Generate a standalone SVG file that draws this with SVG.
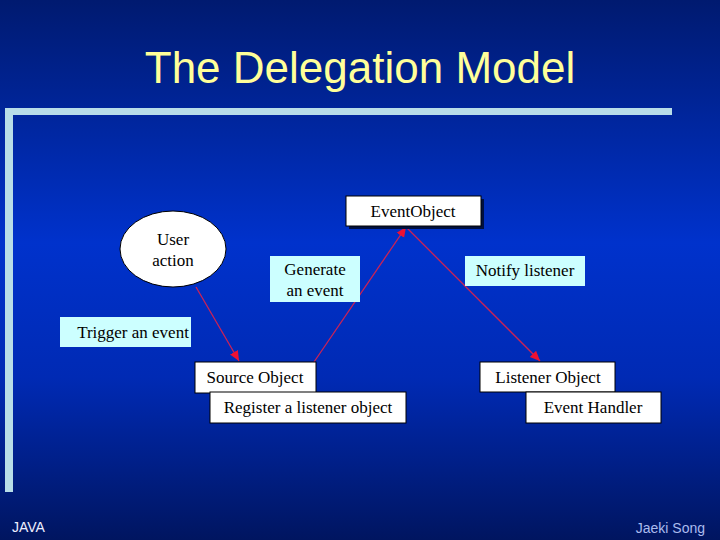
<svg xmlns="http://www.w3.org/2000/svg" width="720" height="540" viewBox="0 0 720 540">
<defs>
<linearGradient id="bg" x1="0" y1="0" x2="0" y2="1">
<stop offset="0" stop-color="#001a70"/>
<stop offset="0.45" stop-color="#0032cc"/>
<stop offset="0.7" stop-color="#002ab4"/>
<stop offset="1" stop-color="#001560"/>
</linearGradient>
<marker id="ah" viewBox="0 0 10 10" refX="10" refY="5" markerWidth="10" markerHeight="10" orient="auto" markerUnits="userSpaceOnUse">
<path d="M0,0.5 L10,5 L0,9.5 z" fill="#ee1133"/>
</marker>
<style>
.w{fill:#ffffff;stroke:#000000;stroke-width:1}
.c{fill:#ccffff;stroke:none}
.sh{fill:#001040}
.t{font-family:"Liberation Serif","Times New Roman",serif;font-size:17px;fill:#000000;text-anchor:middle}
.ln{stroke:#cc2255;stroke-width:1.3;fill:none;marker-end:url(#ah)}
</style>
</defs>
<rect width="720" height="540" fill="url(#bg)"/>
<rect x="5" y="108" width="667" height="7" fill="#b8dde8"/>
<rect x="5" y="108" width="8" height="384" fill="#b8dde8"/>
<text x="360" y="83" font-family="Liberation Sans, Arial, sans-serif" font-size="44" fill="#ffff99" text-anchor="middle">The Delegation Model</text>
<g id="connectors">
<line class="ln" x1="196" y1="287" x2="239" y2="361"/>
<line class="ln" x1="314" y1="362" x2="406" y2="227"/>
<line class="ln" x1="406" y1="227" x2="540" y2="361"/>
</g>
<g id="user-action">
<ellipse cx="173" cy="249" rx="53" ry="38" class="w" stroke-width="1.5"/>
<text class="t" x="173" y="245">User</text>
<text class="t" x="173" y="266">action</text>
</g>
<g id="event-object">
<rect x="349" y="199" width="135" height="30" class="sh"/>
<rect x="346" y="196" width="135" height="30" class="w"/>
<text class="t" x="413" y="217">EventObject</text>
</g>
<g id="generate-event">
<rect x="270" y="256" width="90" height="46" class="c"/>
<text class="t" x="315" y="275">Generate</text>
<text class="t" x="315" y="296">an event</text>
</g>
<g id="notify-listener">
<rect x="465" y="256" width="120" height="30" class="c"/>
<text class="t" x="525" y="276">Notify listener</text>
</g>
<g id="trigger-event">
<rect x="60" y="317" width="131" height="30" class="c"/>
<text class="t" x="133" y="338">Trigger an event</text>
</g>
<g id="source-object">
<rect x="195" y="362" width="121" height="31" class="w"/>
<text class="t" x="255" y="383">Source Object</text>
</g>
<g id="register-listener">
<rect x="210" y="392" width="196" height="31" class="w"/>
<text class="t" x="308" y="413">Register a listener object</text>
</g>
<g id="listener-object">
<rect x="480" y="362" width="135" height="30" class="w"/>
<text class="t" x="548" y="383">Listener Object</text>
</g>
<g id="event-handler">
<rect x="526" y="392" width="135" height="31" class="w"/>
<text class="t" x="593" y="413">Event Handler</text>
</g>
<text x="12" y="532" font-family="Liberation Sans, Arial, sans-serif" font-size="14" fill="#eeeeff">JAVA</text>
<text x="705" y="533" font-family="Liberation Sans, Arial, sans-serif" font-size="14" fill="#aabbee" text-anchor="end">Jaeki Song</text>
</svg>
